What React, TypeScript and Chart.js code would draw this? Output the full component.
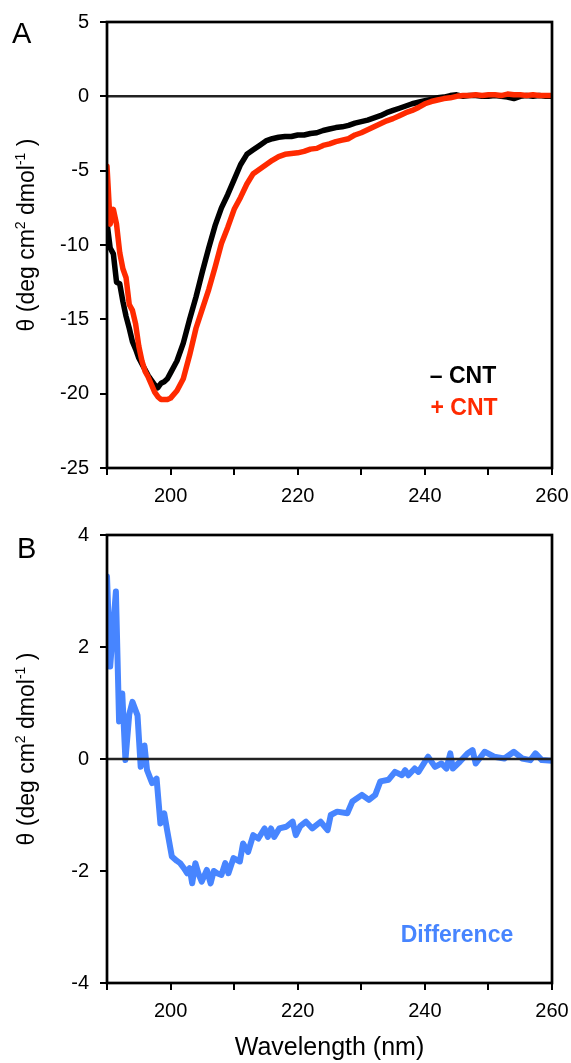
import React, { useEffect, useRef } from "react";
import { Chart, registerables } from "chart.js";

Chart.register(...registerables);

// ---------- DATA ----------
const wavelengthA = [
  190, 190.5, 191, 191.5, 192, 192.5, 193, 193.5, 194, 194.5, 195, 195.5, 196, 196.5, 197, 197.5,
  198, 198.5, 199, 199.5, 200, 201, 202, 203, 204, 205, 206, 207, 208, 209, 210, 211, 212, 213,
  214, 215, 216, 217, 218, 219, 220, 221, 222, 223, 224, 225, 226, 227, 228, 229, 230, 231, 232,
  233, 234, 235, 236, 237, 238, 239, 240, 241, 242, 243, 244, 245, 246, 247, 248, 249, 250, 251,
  252, 253, 254, 255, 256, 257, 258, 259, 260,
];

const minusCNT = [
  -8.5, -10.2, -10.6, -12.5, -12.6, -13.8, -14.8, -15.6, -16.5, -17.0, -17.6, -18.0, -18.4, -18.8,
  -19.1, -19.4, -19.6, -19.3, -19.2, -19.0, -18.6, -17.8, -16.6, -15.0, -13.5, -11.8, -10.2, -8.7,
  -7.5, -6.6, -5.6, -4.6, -3.9, -3.6, -3.3, -3.0, -2.85, -2.75, -2.7, -2.7, -2.6, -2.6, -2.5, -2.45,
  -2.3, -2.2, -2.1, -2.05, -1.95, -1.8, -1.7, -1.6, -1.45, -1.3, -1.1, -0.95, -0.8, -0.65, -0.5,
  -0.4, -0.3, -0.2, -0.1, -0.05, 0.05, 0.1, 0.0, 0.05, 0.05, 0.0, 0.0, 0.05, 0.0, -0.05, -0.15, 0.0,
  0.05, 0.0, 0.05, 0.0, 0.0,
];

const plusCNT = [
  -4.7, -8.6, -7.6, -8.6, -10.5, -11.6, -12.2, -14.0, -14.4, -15.3, -16.8, -17.8, -18.5, -18.9,
  -19.4, -19.9, -20.2, -20.4, -20.4, -20.4, -20.3, -19.8, -19.0, -17.4, -15.6, -14.3, -13.0, -11.5,
  -9.9, -8.8, -7.6, -6.8, -5.9, -5.2, -4.9, -4.6, -4.3, -4.05, -3.9, -3.85, -3.8, -3.7, -3.55, -3.5,
  -3.3, -3.2, -3.05, -2.95, -2.85, -2.6, -2.45, -2.25, -2.05, -1.85, -1.65, -1.5, -1.3, -1.1, -0.95,
  -0.75, -0.5, -0.35, -0.25, -0.15, -0.1, 0.0, 0.05, 0.05, 0.1, 0.05, 0.1, 0.1, 0.05, 0.15, 0.1, 0.1,
  0.05, 0.1, 0.05, 0.05, 0.05,
];

const wavelengthB = [
  190.0, 190.5, 191.4, 191.9, 192.4, 192.9, 193.5, 194.0, 194.8, 195.3, 195.9, 196.3, 197.1, 197.8,
  198.4, 199.0, 199.5, 200.2, 201.0, 201.5, 202.1, 202.6, 203.0, 203.4, 203.9, 204.4, 204.9, 205.7,
  206.3, 206.8, 207.3, 208.0, 208.6, 209.1, 209.9, 210.9, 211.4, 212.2, 213.0, 213.8, 214.8, 215.3,
  215.8, 216.3, 217.1, 218.2, 219.2, 219.7, 220.4, 221.3, 222.3, 223.6, 224.7, 225.2, 226.2, 227.8,
  228.6, 230.1, 231.2, 232.2, 233.0, 234.3, 235.3, 236.4, 236.9, 237.4, 238.4, 239.0, 240.5, 241.6,
  242.6, 243.4, 244.0, 244.4, 245.5, 246.7, 247.5, 248.0, 249.4, 250.9, 252.5, 254.0, 255.3, 256.6,
  257.4, 258.4, 260.0,
];

const difference = [
  3.26, 1.65, 2.99, 0.67, 1.17, -0.02, 0.8, 1.02, 0.78, -0.14, 0.24, -0.2, -0.43, -0.35,
  -1.15, -0.97, -1.3, -1.74, -1.82, -1.86, -1.95, -2.04, -1.95, -2.22, -1.86, -2.05, -2.19, -1.98,
  -2.22, -2.0, -2.04, -2.07, -1.86, -2.04, -1.77, -1.83, -1.51, -1.66, -1.36, -1.42, -1.24, -1.39,
  -1.24, -1.39, -1.24, -1.21, -1.12, -1.36, -1.2, -1.12, -1.24, -1.12, -1.27, -1.0, -0.94, -0.97,
  -0.76, -0.64, -0.73, -0.64, -0.4, -0.37, -0.23, -0.29, -0.2, -0.29, -0.17, -0.23, 0.04, -0.14,
  -0.08, -0.17, 0.1, -0.17, -0.05, 0.1, 0.16, -0.08, 0.13, 0.04, 0.01, 0.13, 0.01, -0.02,
  0.1, -0.02, -0.03,
];

const xRange = [190, 260];
const yRangeA = [-25, 5];
const yRangeB = [-4, 4];
const yStepA = 5;
const yStepB = 2;
const xStep = 10;

const legendA = ["\u2013 CNT", "+ CNT"];
const legendB = ["Difference"];
const xTitle = "Wavelength (nm)";

// ---------- STYLE ----------
const FONT = "'Liberation Sans', Arial, Helvetica, sans-serif";
const BLACK = "#000000";
const RED = "#FF2A00";
const BLUE = "#4785FF";

function drawYTitle(ctx: CanvasRenderingContext2D, cx: number, cy: number, size: number) {
  const parts: [string, boolean][] = [
    ["\u03B8 (deg cm", false],
    ["2", true],
    [" dmol", false],
    ["-1", true],
    [" )", false],
  ];
  const normal = `${size}px ${FONT}`;
  const sup = `${Math.round(size * 0.62)}px ${FONT}`;
  ctx.save();
  ctx.translate(cx, cy);
  ctx.rotate(-Math.PI / 2);
  ctx.fillStyle = "#000";
  ctx.textAlign = "left";
  ctx.textBaseline = "alphabetic";
  let total = 0;
  for (const [t, s] of parts) {
    ctx.font = s ? sup : normal;
    total += ctx.measureText(t).width;
  }
  let x = -total / 2;
  for (const [t, s] of parts) {
    ctx.font = s ? sup : normal;
    ctx.fillText(t, x, s ? -size * 0.38 : 0);
    x += ctx.measureText(t).width;
  }
  ctx.restore();
}

type PanelCfg = {
  height: number;
  top: number;
  xAxisHeight: number;
  yMin: number;
  yMax: number;
  yStep: number;
  datasets: any[];
  zeroOnTop: boolean;
  letter: string;
  letterY: number;
  letterX: number;
  titleCenterOffset: number;
  legend: { text: string; color: string; x: number; y: number }[];
  showXTitle: boolean;
};

function Panel({ cfg }: { cfg: PanelCfg }) {
  const ref = useRef<HTMLCanvasElement | null>(null);
  useEffect(() => {
    const canvas = ref.current;
    if (!canvas) return;
    const drawZero = (chart: any) => {
      const { ctx, chartArea } = chart;
      const y = chart.scales.y.getPixelForValue(0);
      ctx.save();
      ctx.strokeStyle = "#222";
      ctx.lineWidth = 2.5;
      ctx.beginPath();
      ctx.moveTo(chartArea.left, y);
      ctx.lineTo(chartArea.right, y);
      ctx.stroke();
      ctx.restore();
    };
    const framePlugin = {
      id: "framePlugin",
      beforeDatasetsDraw(chart: any) {
        if (!cfg.zeroOnTop) drawZero(chart);
      },
      afterDatasetsDraw(chart: any) {
        if (cfg.zeroOnTop) drawZero(chart);
        const { ctx, chartArea } = chart;
        ctx.save();
        ctx.strokeStyle = "#000";
        ctx.lineWidth = 2.7;
        ctx.strokeRect(
          chartArea.left,
          chartArea.top,
          chartArea.right - chartArea.left,
          chartArea.bottom - chartArea.top
        );
        ctx.restore();
      },
      afterDraw(chart: any) {
        const { ctx, chartArea } = chart;
        drawYTitle(ctx, 34, (chartArea.top + chartArea.bottom) / 2 + cfg.titleCenterOffset, 23);
        ctx.save();
        ctx.fillStyle = "#000";
        ctx.font = `29px ${FONT}`;
        ctx.textAlign = "left";
        ctx.textBaseline = "alphabetic";
        ctx.fillText(cfg.letter, cfg.letterX, cfg.letterY);
        ctx.font = `bold 23px ${FONT}`;
        ctx.textAlign = "center";
        ctx.textBaseline = "middle";
        for (const l of cfg.legend) {
          ctx.fillStyle = l.color;
          ctx.fillText(l.text, l.x, l.y);
        }
        ctx.restore();
      },
    };
    const chart = new Chart(canvas, {
      type: "line",
      data: { datasets: cfg.datasets },
      plugins: [framePlugin],
      options: {
        animation: false,
        responsive: false,
        devicePixelRatio: 1,
        layout: { padding: { left: 0, top: cfg.top, right: 19, bottom: 0 } },
        plugins: { legend: { display: false }, tooltip: { enabled: false } },
        elements: { point: { radius: 0 }, line: { tension: 0 } },
        scales: {
          x: {
            type: "linear",
            min: xRange[0],
            max: xRange[1],
            border: { display: false },
            grid: {
              drawOnChartArea: false,
              drawTicks: true,
              tickLength: 7,
              color: "#000",
              lineWidth: 2,
            },
            ticks: {
              stepSize: xStep,
              autoSkip: false,
              maxRotation: 0,
              padding: 9,
              color: "#000",
              font: { family: FONT, size: 20 },
              callback: (v: any) => (Number(v) % 20 === 0 ? String(v) : ""),
            },
            title: {
              display: cfg.showXTitle,
              text: xTitle,
              color: "#000",
              font: { family: FONT, size: 25 },
              padding: { top: 0, bottom: 0 },
            },
            afterFit: (s: any) => {
              s.height = cfg.xAxisHeight;
              s.paddingLeft = 0;
              s.paddingRight = 0;
            },
          },
          y: {
            type: "linear",
            min: cfg.yMin,
            max: cfg.yMax,
            border: { display: false },
            grid: {
              drawOnChartArea: false,
              drawTicks: true,
              tickLength: 7,
              color: "#000",
              lineWidth: 2,
            },
            ticks: {
              stepSize: cfg.yStep,
              padding: 11,
              color: "#000",
              font: { family: FONT, size: 20 },
            },
            afterFit: (s: any) => {
              s.width = 107;
              s.paddingTop = 0;
              s.paddingBottom = 0;
            },
          },
        },
      },
    });
    return () => chart.destroy();
  }, []);
  return (
    <canvas
      ref={ref}
      width={571}
      height={cfg.height}
      style={{ display: "block", width: 571, height: cfg.height }}
    />
  );
}

export default function App() {
  const panelA: PanelCfg = {
    height: 515,
    top: 22,
    xAxisHeight: 47,
    yMin: yRangeA[0],
    yMax: yRangeA[1],
    yStep: yStepA,
    datasets: [
      {
        label: legendA[1],
        data: wavelengthA.map((x, i) => ({ x, y: plusCNT[i] })),
        borderColor: RED,
        borderWidth: 5.5,
        borderJoinStyle: "round",
        borderCapStyle: "round",
        fill: false,
      },
      {
        label: legendA[0],
        data: wavelengthA.map((x, i) => ({ x, y: minusCNT[i] })),
        borderColor: BLACK,
        borderWidth: 5.5,
        borderJoinStyle: "round",
        borderCapStyle: "round",
        fill: false,
      },
    ],
    zeroOnTop: false,
    letter: "A",
    letterX: 12,
    letterY: 43,
    titleCenterOffset: -10,
    legend: [
      { text: legendA[0], color: BLACK, x: 463, y: 377 },
      { text: legendA[1], color: RED, x: 464, y: 409 },
    ],
    showXTitle: false,
  };
  const panelB: PanelCfg = {
    height: 548,
    top: 20,
    xAxisHeight: 80,
    yMin: yRangeB[0],
    yMax: yRangeB[1],
    yStep: yStepB,
    datasets: [
      {
        label: legendB[0],
        data: wavelengthB.map((x, i) => ({ x, y: difference[i] })),
        borderColor: BLUE,
        borderWidth: 6,
        borderJoinStyle: "round",
        borderCapStyle: "round",
        fill: false,
      },
    ],
    zeroOnTop: true,
    letter: "B",
    letterX: 17,
    letterY: 43,
    titleCenterOffset: -10,
    legend: [{ text: legendB[0], color: BLUE, x: 457, y: 421 }],
    showXTitle: true,
  };
  return (
    <div style={{ position: "absolute", left: 0, top: 0, width: 571, height: 1063, background: "#fff" }}>
      <Panel cfg={panelA} />
      <Panel cfg={panelB} />
    </div>
  );
}
